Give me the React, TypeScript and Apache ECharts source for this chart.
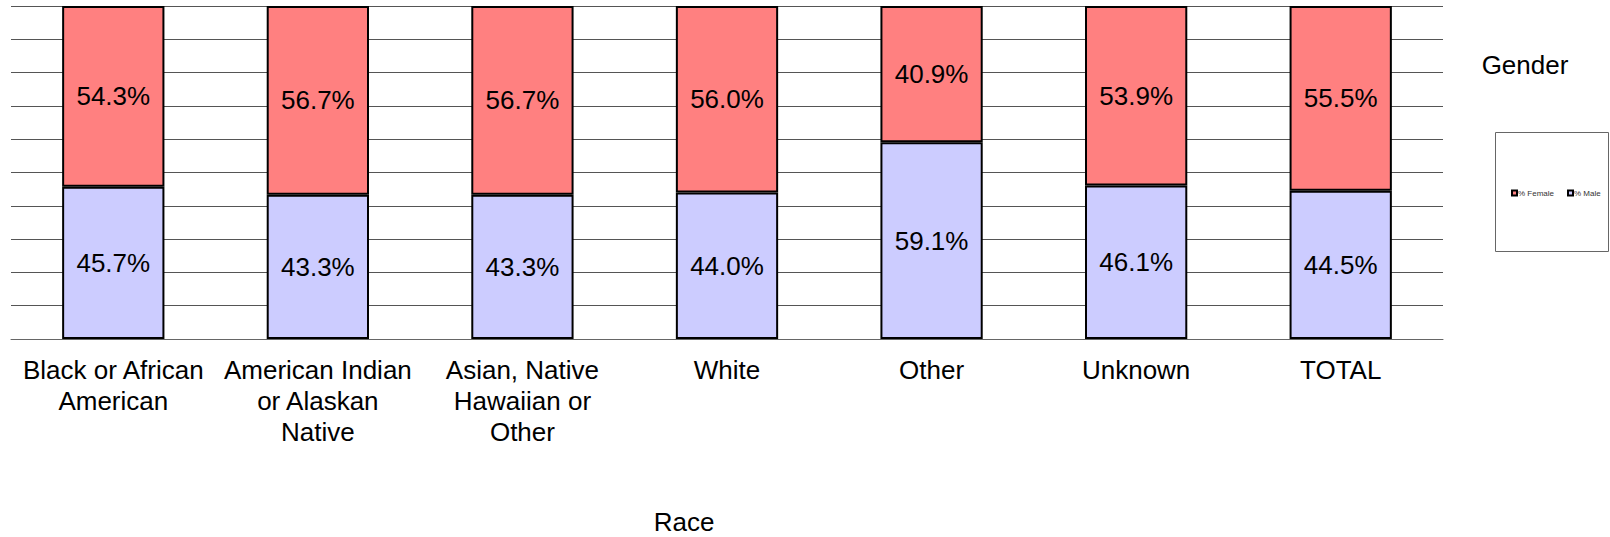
import React, { useEffect, useRef } from "react";
import * as echarts from "echarts";

const categories = [
  "Black or African\nAmerican",
  "American Indian\nor Alaskan\nNative",
  "Asian, Native\nHawaiian or\nOther",
  "White",
  "Other",
  "Unknown",
  "TOTAL",
];
const femalePct = [54.3, 56.7, 56.7, 56.0, 40.9, 53.9, 55.5];
const malePct = [45.7, 43.3, 43.3, 44.0, 59.1, 46.1, 44.5];
const seriesNames = ["% Female", "% Male"];

const FONT = "Liberation Sans, Arial, sans-serif";

export default function App() {
  const ref = useRef<HTMLDivElement>(null);
  useEffect(() => {
    document.body.style.margin = "0";
    const chart = echarts.init(ref.current!, null, { renderer: "svg" });
    const label = {
      show: true,
      position: "inside",
      fontSize: 26,
      fontFamily: FONT,
      color: "#000",
      formatter: (p: any) => p.value.toFixed(1) + "%",
    };
    chart.setOption({
      animation: false,
      textStyle: { fontFamily: FONT },
      grid: { left: 11, right: 167, top: 6, bottom: 198 },
      legend: {
        data: seriesNames,
        left: 1511,
        top: 189,
        padding: 0,
        itemWidth: 5,
        itemHeight: 5,
        itemGap: 13,
        icon: "rect",
        textStyle: { fontSize: 8, color: "#333", fontFamily: FONT, padding: [0, 0, 0, -4] },
        itemStyle: { borderColor: "#000", borderWidth: 2 },
      },
      graphic: [
        {
          type: "rect",
          shape: { x: 1495.5, y: 132.5, width: 113, height: 119 },
          style: { fill: "none", stroke: "#666", lineWidth: 1 },
          z: -1,
        },
        {
          type: "text",
          x: 1525,
          y: 65,
          style: {
            text: "Gender",
            fontSize: 26,
            fontFamily: FONT,
            fill: "#000",
            align: "center",
            verticalAlign: "middle",
          },
        },
        {
          type: "text",
          x: 684,
          y: 522,
          style: {
            text: "Race",
            fontSize: 26,
            fontFamily: FONT,
            fill: "#000",
            align: "center",
            verticalAlign: "middle",
          },
        },
      ],
      xAxis: {
        type: "category",
        data: categories,
        axisLine: { show: true, lineStyle: { color: "#666", width: 1 } },
        axisTick: { show: false },
        axisLabel: {
          fontSize: 26,
          color: "#000",
          fontFamily: FONT,
          lineHeight: 31,
          margin: 15,
          interval: 0,
        },
      },
      yAxis: {
        type: "value",
        min: 0,
        max: 100,
        interval: 10,
        axisLabel: { show: false },
        axisLine: { show: false },
        axisTick: { show: false },
        splitLine: { lineStyle: { color: "#555", width: 1 } },
      },
      series: [
        {
          name: "% Male",
          type: "bar",
          stack: "g",
          data: malePct,
          barWidth: "50%",
          itemStyle: { color: "#CCCCFF", borderColor: "#000", borderWidth: 2 },
          label,
        },
        {
          name: "% Female",
          type: "bar",
          stack: "g",
          data: femalePct,
          barWidth: "50%",
          itemStyle: { color: "#FF8080", borderColor: "#000", borderWidth: 2 },
          label,
        },
      ],
    });
    return () => chart.dispose();
  }, []);
  return <div ref={ref} style={{ width: 1610, height: 537 }} />;
}
